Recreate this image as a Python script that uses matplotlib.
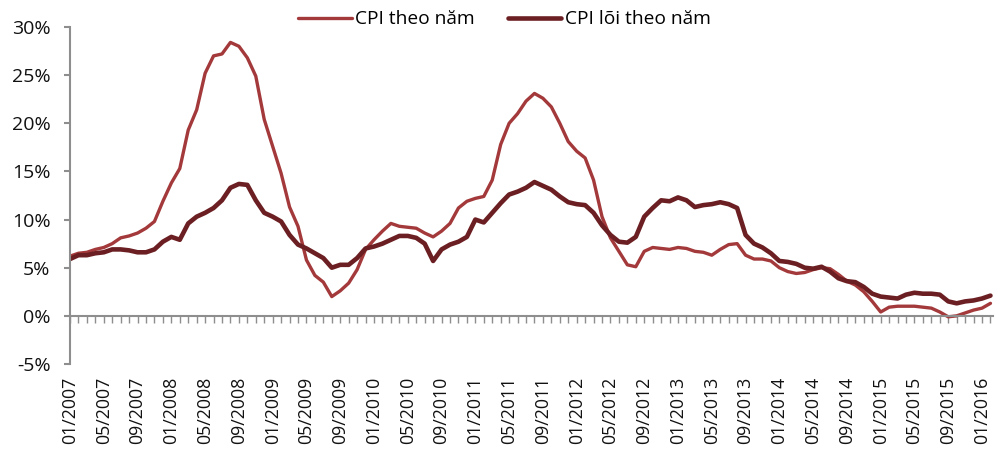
import matplotlib
matplotlib.use("Agg")
import matplotlib.pyplot as plt
import matplotlib.transforms as mtransforms
from matplotlib.ticker import FuncFormatter, MultipleLocator

plt.rcParams['font.family'] = ['Open Sans', 'DejaVu Sans']

# Monthly data from 01/2007 to 02/2016 (month index 0..109)
cpi = [6.2, 6.5, 6.6, 6.9, 7.1, 7.5, 8.1, 8.3, 8.6, 9.1, 9.8, 11.9,
       13.8, 15.3, 19.3, 21.4, 25.2, 27.0, 27.2, 28.4, 28.0, 26.8, 24.9, 20.4,
       17.6, 14.8, 11.3, 9.3, 5.8, 4.2, 3.5, 2.0, 2.6, 3.4, 4.8, 6.9,
       7.9, 8.8, 9.6, 9.3, 9.2, 9.1, 8.6, 8.2, 8.8, 9.6, 11.2, 11.9,
       12.2, 12.4, 14.1, 17.8, 20.0, 21.0, 22.3, 23.1, 22.6, 21.7, 20.0, 18.1,
       17.1, 16.4, 14.1, 10.3, 8.1, 6.7, 5.3, 5.1, 6.7, 7.1, 7.0, 6.9,
       7.1, 7.0, 6.7, 6.6, 6.3, 6.9, 7.4, 7.5, 6.3, 5.9, 5.9, 5.7,
       5.0, 4.6, 4.4, 4.5, 4.8, 5.0, 4.9, 4.3, 3.6, 3.2, 2.5, 1.5,
       0.4, 0.9, 1.0, 1.0, 1.0, 0.9, 0.8, 0.4, -0.1, 0.0, 0.3, 0.6,
       0.8, 1.3]

core_cpi = [5.9, 6.3, 6.3, 6.5, 6.6, 6.9, 6.9, 6.8, 6.6, 6.6, 6.9, 7.7,
            8.2, 7.9, 9.6, 10.3, 10.7, 11.2, 12.0, 13.3, 13.7, 13.6, 12.0, 10.7,
            10.3, 9.8, 8.4, 7.4, 7.0, 6.5, 6.0, 5.0, 5.3, 5.3, 6.0, 7.0,
            7.2, 7.5, 7.9, 8.3, 8.3, 8.1, 7.5, 5.7, 6.9, 7.4, 7.7, 8.2,
            10.0, 9.7, 10.7, 11.7, 12.6, 12.9, 13.3, 13.9, 13.5, 13.1, 12.4, 11.8,
            11.6, 11.5, 10.7, 9.4, 8.4, 7.7, 7.6, 8.2, 10.3, 11.2, 12.0, 11.9,
            12.3, 12.0, 11.3, 11.5, 11.6, 11.8, 11.6, 11.2, 8.4, 7.5, 7.1, 6.5,
            5.7, 5.6, 5.4, 5.0, 4.9, 5.1, 4.6, 3.9, 3.6, 3.5, 3.0, 2.3,
            2.0, 1.9, 1.8, 2.2, 2.4, 2.3, 2.3, 2.2, 1.5, 1.3, 1.5, 1.6,
            1.8, 2.1]

tick_labels = ['01/2007', '05/2007', '09/2007', '01/2008', '05/2008', '09/2008',
               '01/2009', '05/2009', '09/2009', '01/2010', '05/2010', '09/2010',
               '01/2011', '05/2011', '09/2011', '01/2012', '05/2012', '09/2012',
               '01/2013', '05/2013', '09/2013', '01/2014', '05/2014', '09/2014',
               '01/2015', '05/2015', '09/2015', '01/2016']

series_names = ['CPI theo năm', 'CPI lõi theo năm']

color_cpi = '#A3393A'
color_core = '#6B1F22'
gray = '#8E8E8E'

fig = plt.figure(figsize=(10, 4.53), dpi=100)
ax = fig.add_axes([0.07, 0.1965, 0.923, 0.7439])

months = list(range(len(cpi)))
ax.plot(months, cpi, color=color_cpi, lw=2.4, label=series_names[0],
        solid_joinstyle='round', solid_capstyle='round')
ax.plot(months, core_cpi, color=color_core, lw=3.3, label=series_names[1],
        solid_joinstyle='round', solid_capstyle='round')

ax.set_ylim(-5, 30)
ax.set_xlim(0, 109.3)
ax.yaxis.set_major_locator(MultipleLocator(5))
ax.yaxis.set_major_formatter(FuncFormatter(lambda v, p: f'{v:.0f}%'))

for s in ['top', 'right']:
    ax.spines[s].set_visible(False)
ax.spines['left'].set_color(gray)
ax.spines['left'].set_linewidth(1.5)
ax.spines['bottom'].set_position(('data', 0))
ax.spines['bottom'].set_color(gray)
ax.spines['bottom'].set_linewidth(1.5)

ax.set_xticks(months)
ax.set_xticklabels([])
ax.tick_params(axis='x', direction='out', length=5, width=1.0, color=gray)
ax.tick_params(axis='y', direction='out', length=4, width=1.5, color=gray,
               labelsize=14, pad=10, labelcolor='#111111')

# x labels below the plot area
label_pos = [i * 4 for i in range(len(tick_labels))]
trans = mtransforms.blended_transform_factory(ax.transData, ax.transAxes)
trans = trans + mtransforms.ScaledTranslation(0, -9 / 72, fig.dpi_scale_trans)
for xp, lab in zip(label_pos, tick_labels):
    ax.text(xp, 0, lab, transform=trans, rotation=90, ha='center', va='top',
            fontsize=12.8, color='#111111')

leg = fig.legend(loc='upper center', bbox_to_anchor=(0.5045, 1.015), ncol=2,
                 frameon=False, fontsize=13.8, handlelength=2.8,
                 handletextpad=0.2, columnspacing=1.7)

fig.savefig('out.png', dpi=100)
